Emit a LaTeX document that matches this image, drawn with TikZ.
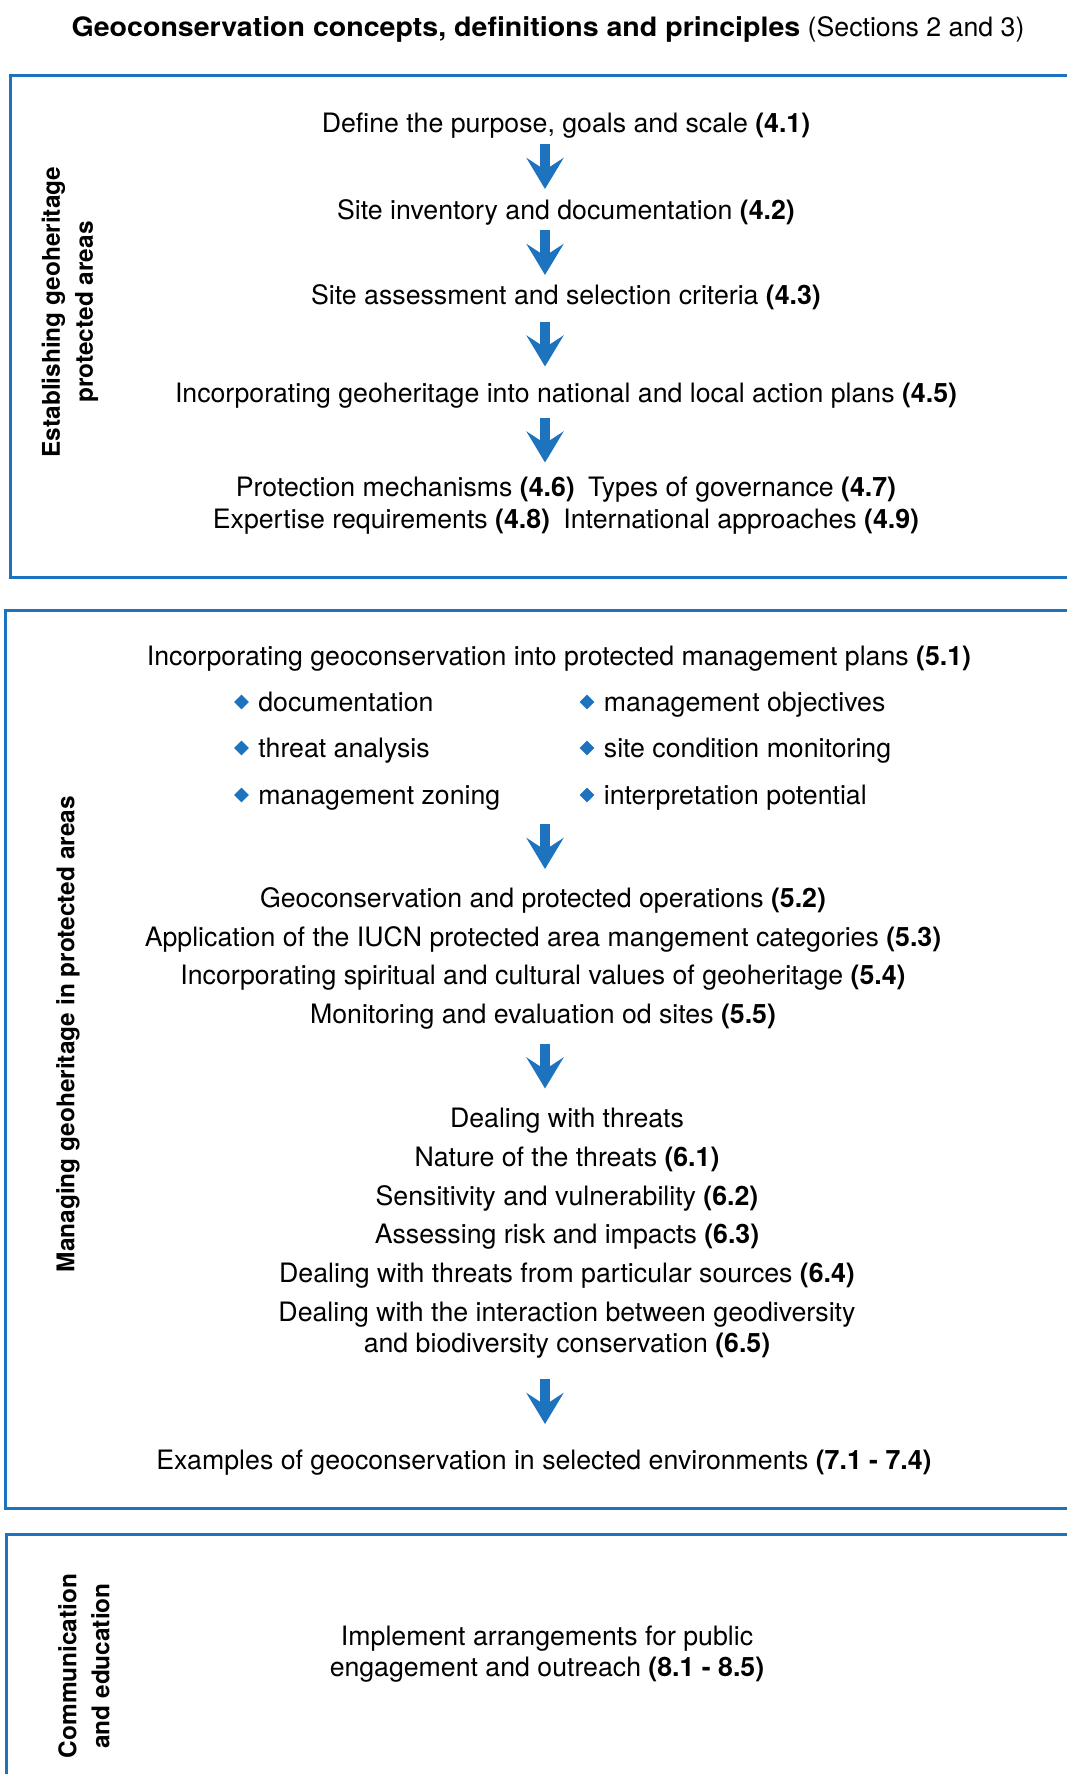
\documentclass[tikz,border=0pt]{standalone}
\usepackage{fontspec}
\setmainfont{TeX Gyre Heros}
\newfontfamily\headfont{TeX Gyre Heros}[FakeStretch=1.07]
\usetikzlibrary{arrows.meta,calc,positioning,shapes.geometric}
\definecolor{geoblue}{RGB}{30,115,190}

\begin{document}
\begin{tikzpicture}
  [x=1pt,y=-1pt,
   txt/.style={font=\fontsize{26.7}{31}\selectfont,text height=19pt,text depth=5.5pt,inner sep=0pt,yshift=-2.3pt},
   side/.style={rotate=90,align=center,inner sep=0pt,font=\bfseries\fontsize{24.4}{33}\selectfont},
   panel/.style={draw=geoblue,line width=3pt},
   dot/.style={diamond,fill=geoblue,inner sep=0pt,minimum size=15pt},
   flow/.style={draw=geoblue,line width=10pt,-{Stealth[length=31pt,width=37pt,inset=12pt]}}]
  \useasboundingbox (0,0) rectangle (1067,1774);

  \node[txt] (title) at (548,27.5) {{\headfont\bfseries Geoconservation concepts, definitions and principles} (Sections 2 and 3)};

  \draw[panel] (10,76) rectangle (1090,577);
  \draw[panel] (5.5,610) rectangle (1090,1508);
  \draw[panel] (6,1534) rectangle (1090,1800);

  \node[side] (s1) at (70,312) {Establishing geoheritage\\protected areas};
  \node[side] (s2) at (68,1034) {Managing geoheritage in protected areas};
  \node[side] (s3) at (84,1666) {Communication\\and education};

  \node[txt] (d1) at (566,123) {Define the purpose, goals and scale \textbf{(4.1)}};
  \node[txt] (d2) at (566,210) {Site inventory and documentation \textbf{(4.2)}};
  \node[txt] (d3) at (566,295) {Site assessment and selection criteria \textbf{(4.3)}};
  \node[txt] (d4) at (566,393) {Incorporating geoheritage into national and local action plans \textbf{(4.5)}};
  \node[txt] (d5) at (566,487) {Protection mechanisms \textbf{(4.6)}\enspace Types of governance \textbf{(4.7)}};
  \node[txt] (d6) at (566,519) {Expertise requirements \textbf{(4.8)}\enspace International approaches \textbf{(4.9)}};

  \node[txt] (m1) at (559,656) {Incorporating geoconservation into protected management plans \textbf{(5.1)}};
  \node[dot] (p1) at (241.5,702) {};
  \node[dot] (p2) at (241.5,748) {};
  \node[dot] (p3) at (241.5,795) {};
  \node[dot] (p4) at (587,702) {};
  \node[dot] (p5) at (587,748) {};
  \node[dot] (p6) at (587,795) {};
  \node[txt,right=9pt of p1] (b1) {documentation};
  \node[txt,right=9pt of p2] (b2) {threat analysis};
  \node[txt,right=9pt of p3] (b3) {management zoning};
  \node[txt,right=9pt of p4] (b4) {management objectives};
  \node[txt,right=9pt of p5] (b5) {site condition monitoring};
  \node[txt,right=9pt of p6] (b6) {interpretation potential};

  \node[txt] (m2) at (543,898) {Geoconservation and protected operations \textbf{(5.2)}};
  \node[txt] (m3) at (543,937) {Application of the IUCN protected area mangement categories \textbf{(5.3)}};
  \node[txt] (m4) at (543,975) {Incorporating spiritual and cultural values of geoheritage \textbf{(5.4)}};
  \node[txt] (m5) at (543,1014) {Monitoring and evaluation od sites \textbf{(5.5)}};

  \node[txt] (t0) at (567,1118) {Dealing with threats};
  \node[txt] (t1) at (567,1157) {Nature of the threats \textbf{(6.1)}};
  \node[txt] (t2) at (567,1196) {Sensitivity and vulnerability \textbf{(6.2)}};
  \node[txt] (t3) at (567,1234) {Assessing risk and impacts \textbf{(6.3)}};
  \node[txt] (t4) at (567,1273) {Dealing with threats from particular sources \textbf{(6.4)}};
  \node[txt] (t5) at (567,1312) {Dealing with the interaction between geodiversity};
  \node[txt] (t6) at (567,1343) {and biodiversity conservation \textbf{(6.5)}};

  \node[txt] (e1) at (544,1460) {Examples of geoconservation in selected environments \textbf{(7.1 - 7.4)}};

  \node[txt] (c1) at (547,1636) {Implement arrangements for public};
  \node[txt] (c2) at (547,1667) {engagement and outreach \textbf{(8.1 - 8.5)}};

  \foreach \from/\to in {d1/d2,d2/d3,d3/d4,d4/d5,b3/m2,m5/t0,t6/e1}
    \draw[flow] let \p1=($(\from)!.5!(\to)$) in (545,{\y1+24.8pt}) -- ++(0,45);

\end{tikzpicture}
\end{document}
